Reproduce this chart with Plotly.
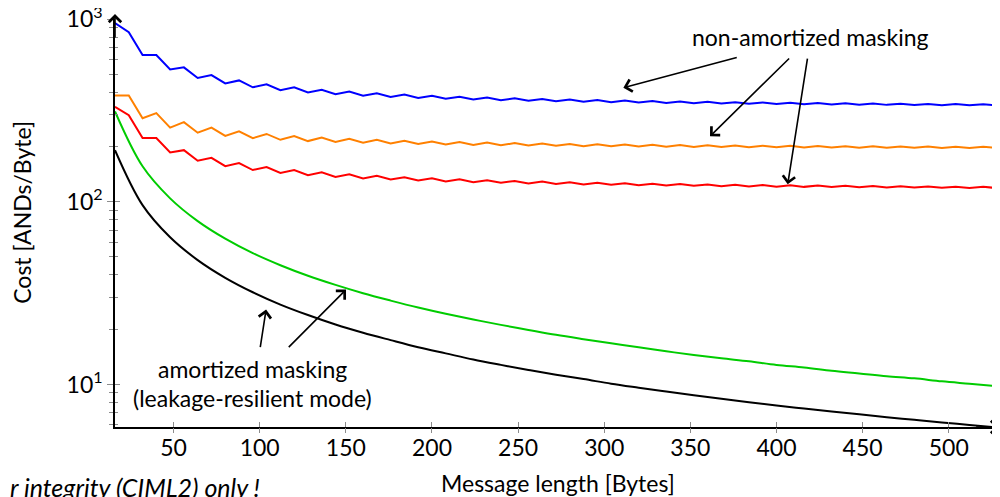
import plotly.graph_objects as go

# ---------------- data ----------------
msg_len_saw = list(range(16, 529, 8))      # sampling grid of the non-amortized curves
msg_len_smooth = list(range(16, 529, 16))  # sampling grid of the amortized curves

blue_vals = [955, 850, 637.5, 637.2, 531.0, 546.0, 477.8, 495.4, 445.8, 463.1,
             424.5, 440.8, 409.3, 424.5, 397.9, 411.9, 389.0, 402.1, 381.9, 394.1,
             376.1, 387.4, 371.3, 381.9, 367.2, 377.2, 363.7, 373.1, 360.7, 369.5,
             358.0, 366.4, 355.6, 363.7, 353.6, 361.2, 351.7, 359.0, 350.0, 357.0,
             348.5, 355.2, 347.1, 353.5, 345.8, 352.0, 344.7, 350.6, 343.6, 349.4,
             342.6, 348.2, 341.7, 347.1, 340.9, 346.1, 340.1, 345.1, 339.4, 344.2,
             338.7, 343.4, 338.0, 342.6, 337.4]

orange_vals = [383.0, 383.0, 287.3, 306.4, 255.3, 273.6, 239.4, 255.3, 229.8, 243.7,
               223.4, 235.7, 218.9, 229.8, 215.4, 225.3, 212.8, 221.7, 210.7, 218.9,
               208.9, 216.5, 207.5, 214.5, 206.2, 212.8, 205.2, 211.3, 204.3, 210.0,
               203.5, 208.9, 202.8, 207.9, 202.1, 207.0, 201.6, 206.2, 201.1, 205.5,
               200.6, 204.9, 200.2, 204.3, 199.8, 203.7, 199.5, 203.2, 199.2, 202.8,
               198.9, 202.3, 198.6, 201.9, 198.3, 201.6, 198.1, 201.2, 197.9, 200.9,
               197.7, 200.6, 197.5, 200.3, 197.3]

red_vals = [332, 298.5, 223.9, 224.0, 186.7, 192.1, 168.1, 174.4, 156.9, 163.1,
            149.5, 155.3, 144.2, 149.6, 140.2, 145.2, 137.1, 141.7, 134.6, 138.9,
            132.6, 136.6, 130.9, 134.7, 129.5, 133.0, 128.3, 131.6, 127.2, 130.3,
            126.3, 129.2, 125.4, 128.3, 124.7, 127.4, 124.1, 126.6, 123.5, 125.9,
            122.9, 125.3, 122.5, 124.7, 122.0, 124.2, 121.6, 123.7, 121.2, 123.3,
            120.9, 122.9, 120.6, 122.5, 120.3, 122.1, 120.0, 121.8, 119.8, 121.5,
            119.5, 121.2, 119.3, 120.9, 119.1]

green_vals = [313.0, 156.7, 104.6, 78.5, 62.9, 52.4, 45.0, 39.4, 35.1, 31.6,
              28.8, 26.4, 24.4, 22.7, 21.2, 19.9, 18.7, 17.7, 16.8, 16.0,
              15.2, 14.5, 13.9, 13.4, 12.8, 12.4, 11.9, 11.5, 11.1, 10.8,
              10.4, 10.1, 9.8]

black_vals = [192, 96, 64, 48, 38.4, 32, 27.4, 24, 21.3, 19.2,
              17.5, 16, 14.8, 13.7, 12.8, 12, 11.3, 10.7, 10.1, 9.6,
              9.14, 8.73, 8.35, 8.0, 7.68, 7.38, 7.11, 6.86, 6.62, 6.4,
              6.19, 6.0, 5.82]

x_ticks = [50, 100, 150, 200, 250, 300, 350, 400, 450, 500]
y_ticks = [10, 100, 1000]
y_ticktext = ["10<sup>1</sup>", "10<sup>2</sup>", "10<sup>3</sup>"]

x_range = [16, 528]
y_range_log = [0.767, 3.002]

FONT = "Lato"
FS = 23
TICKC = "#8c8c8c"

fig = go.Figure()

fig.add_trace(go.Scatter(x=msg_len_saw, y=blue_vals, mode="lines",
                         line=dict(color="#0000ff", width=2), showlegend=False))
fig.add_trace(go.Scatter(x=msg_len_saw, y=orange_vals, mode="lines",
                         line=dict(color="#ff8000", width=2), showlegend=False))
fig.add_trace(go.Scatter(x=msg_len_saw, y=red_vals, mode="lines",
                         line=dict(color="#ff0000", width=2), showlegend=False))
fig.add_trace(go.Scatter(x=msg_len_smooth, y=green_vals, mode="lines",
                         line=dict(color="#00cc00", width=2, shape="spline"),
                         showlegend=False))
fig.add_trace(go.Scatter(x=msg_len_smooth, y=black_vals, mode="lines",
                         line=dict(color="#000000", width=2, shape="spline"),
                         showlegend=False))
# empty trace to attach the overlay axes (ticks on the other side of the axis line)
fig.add_trace(go.Scatter(x=[], y=[], xaxis="x2", yaxis="y2", showlegend=False))

# the page body adds an 8px offset, so the figure is sized to fit the window
fig.update_layout(
    width=992, height=489,
    margin=dict(l=107, r=3, t=11, b=70, autoexpand=False),
    paper_bgcolor="white", plot_bgcolor="white",
    font=dict(family=FONT, size=FS, color="black"),
    xaxis=dict(range=x_range, tickvals=x_ticks, ticks="inside", ticklen=5,
               tickcolor=TICKC, tickwidth=1, showline=True, linecolor="black",
               linewidth=1.6, showgrid=False, zeroline=False, automargin=False,
               tickfont=dict(family=FONT, size=FS)),
    yaxis=dict(type="log", range=y_range_log, tickvals=y_ticks, ticktext=y_ticktext,
               ticks="outside", ticklen=6, tickcolor=TICKC, tickwidth=1,
               showline=True, linecolor="black", linewidth=1.6, showgrid=False,
               zeroline=False, tickfont=dict(family=FONT, size=FS),
               ticklabeloverflow="allow", automargin=False,
               minor=dict(ticks="outside", ticklen=4, tickcolor=TICKC, tickwidth=1,
                          dtick="D1", showgrid=False)),
    xaxis2=dict(overlaying="x", range=x_range, tickvals=x_ticks, ticks="outside",
                ticklen=5, tickcolor=TICKC, tickwidth=1, showticklabels=False,
                showline=False, showgrid=False, zeroline=False, side="bottom",
                automargin=False),
    yaxis2=dict(overlaying="y", type="log", range=y_range_log, tickvals=y_ticks,
                ticks="inside", ticklen=5, tickcolor=TICKC, tickwidth=1,
                showticklabels=False, showline=False, showgrid=False, zeroline=False,
                side="left", automargin=False,
                minor=dict(ticks="inside", ticklen=3, tickcolor=TICKC, tickwidth=1,
                           dtick="D1", showgrid=False)),
)

ann = []
# axis arrow heads
ann.append(dict(xref="paper", yref="paper", x=1.003, y=0, ax=-25, ay=0, text="",
                showarrow=True, arrowhead=4, arrowsize=1.5, arrowwidth=1.6,
                arrowcolor="black", standoff=0))
ann.append(dict(xref="paper", yref="paper", x=0, y=1.012, ax=0, ay=25, text="",
                showarrow=True, arrowhead=4, arrowsize=1.5, arrowwidth=1.6,
                arrowcolor="black", standoff=0))

def arrow(tail, head):
    return dict(xref="x", yref="y", axref="x", ayref="y",
                x=head[0], y=head[1], ax=tail[0], ay=tail[1], text="",
                showarrow=True, arrowhead=4, arrowsize=1.5, arrowwidth=1.6,
                arrowcolor="black", standoff=0, startstandoff=0)

def label(x, y, text, ref="x", size=FS, **kw):
    d = dict(xref=ref, yref="y" if ref == "x" else "paper", x=x, y=y, text=text,
             showarrow=False, xanchor="center", yanchor="middle",
             font=dict(family=FONT, size=size))
    d.update(kw)
    return d

# non-amortized masking
ann.append(label(419.9, 2.903, "non-amortized masking"))
ann.append(arrow((377.8, 2.7935), (311.1, 2.626)))
ann.append(arrow((408.2, 2.7935), (361.4, 2.3593)))
ann.append(arrow((418.1, 2.7935), (406.5, 2.0964)))

# amortized masking
ann.append(label(95.9, 1.087, "amortized masking"))
ann.append(label(95.9, 0.928, "(leakage-resilient mode)"))
ann.append(arrow((100.2, 1.1966), (103.7, 1.4102)))
ann.append(arrow((116.0, 1.1966), (150.1, 1.5197)))

# axis titles
ann.append(label(0.5023, -0.137, "Message length [Bytes]", ref="paper"))
ann.append(label(-0.105, 0.526, "Cost [ANDs/Byte]", ref="paper", textangle=-90))
# cropped italic note
ann.append(label(0.1667, -0.146, "<i>r integrity (CIML2) only !</i>", ref="paper",
                 size=25, xanchor="right"))

fig.update_layout(annotations=ann)
fig.write_html("out.html")
